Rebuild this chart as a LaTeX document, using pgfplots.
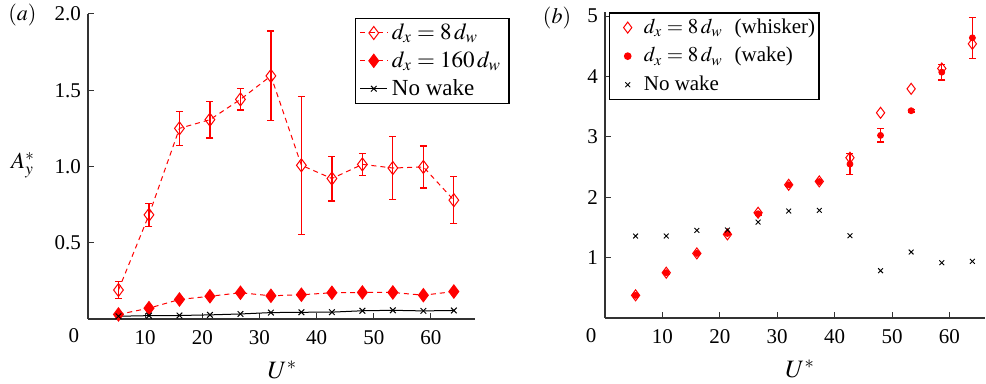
\documentclass[border=0pt]{standalone}
\usepackage{mathptmx}
\usepackage{fontspec}
\setmainfont{Liberation Serif}
\usepackage{pgfplots}
\pgfplotsset{compat=1.18}
\begin{document}
\begin{tikzpicture}
\useasboundingbox (-44pt,-32.5pt) rectangle (449pt,159.5pt);
\pgfplotsset{
  common/.style={
    scale only axis,
    axis x line*=bottom, axis y line*=left,
    tick align=inside,
    major tick length=3pt,
    axis line style={line width=0.6pt, black!80},
    tick style={line width=0.5pt, black!80},
    /pgf/number format/assume math mode=true,
    ticklabel style={font=\fontsize{10.5}{12}\selectfont},
    xtick={10,20,30,40,50,60},
    xticklabel style={yshift=-2pt},
    clip=false,
  },
}
% ---------------- (a) ----------------
\begin{axis}[common,
  at={(0pt,0pt)}, anchor=south west,
  width=193.5pt, height=152.5pt,
  xmin=0, xmax=67.7, ymin=0, ymax=2,
  ytick={0.5,1,1.5,2},
  yticklabel style={/pgf/number format/.cd, fixed, fixed zerofill, precision=1},
  legend style={at={(axis description cs:0.69,0.987)}, anchor=north west,
    draw=black, line width=0.6pt, font=\fontsize{11.5}{13}\selectfont,
    inner xsep=2pt, inner ysep=0.5pt, row sep=0.5pt, cells={anchor=west}},
  legend image code/.code={\draw[mark repeat=2,mark phase=2] plot coordinates {(0cm,0cm) (0.24cm,0cm) (0.48cm,0cm)};},
]
\addplot[red, line width=0.5pt, dash pattern=on 2.5pt off 2pt,
  mark=diamond, mark size=3.25pt, mark options={solid, line width=0.5pt},
  error bars/.cd, y dir=both, y explicit,
  error bar style={solid, red, line width=0.6pt},
  error mark options={red, mark size=1.75pt, solid, line width=0.6pt, rotate=90}]
coordinates {
(5.33,0.19) +- (0,0.055)
(10.67,0.683) +- (0,0.075)
(16,1.25) +- (0,0.113)
(21.33,1.307) +- (0,0.12)
(26.67,1.44) +- (0,0.07)
(32,1.594) +- (0,0.295)
(37.33,1.008) +- (0,0.452)
(42.67,0.921) +- (0,0.147)
(48,1.014) +- (0,0.071)
(53.33,0.99) +- (0,0.207)
(58.67,0.997) +- (0,0.138)
(64,0.779) +- (0,0.153)
};
\addlegendentry{$d_x = 8\,d_w$}
\addplot[red, line width=0.5pt, dash pattern=on 2.5pt off 2pt,
  mark=diamond*, mark size=3.3pt, mark options={solid, fill=red}]
coordinates {
(5.33,0.030) (10.67,0.071) (16,0.128) (21.33,0.149) (26.67,0.172) (32,0.152)
(37.33,0.159) (42.67,0.172) (48,0.174) (53.33,0.174) (58.67,0.156) (64,0.180)
};
\addlegendentry{$d_x = 160\,d_w$}
\addplot[black, line width=0.5pt, mark=x, mark size=2pt]
coordinates {
(5.33,0.018) (10.67,0.022) (16,0.023) (21.33,0.027) (26.67,0.033) (32,0.042)
(37.33,0.044) (42.67,0.045) (48,0.054) (53.33,0.057) (58.67,0.053) (64,0.056)
};
\addlegendentry{No wake}
\node[font=\fontsize{10.5}{12}\selectfont] at (axis cs:0,0) [xshift=-7pt, yshift=-8.5pt] {0};
\node[font=\fontsize{12.5}{14}\selectfont] at (axis cs:34,0) [yshift=-25.5pt] {$U^{*}$};
\node[font=\fontsize{11.5}{14}\selectfont] at (axis cs:0,1.01) [xshift=-32.5pt] {$A_y^{*}$};
\node[font=\fontsize{11}{13}\selectfont] at (axis cs:0,2) [xshift=-32.75pt, yshift=-0.5pt] {$(a)$};
\end{axis}
% ---------------- (b) ----------------
\begin{axis}[common,
  at={(258.5pt,0.5pt)}, anchor=south west,
  width=190pt, height=153pt,
  xmin=0, xmax=66.2, ymin=0, ymax=5.07,
  ytick={1,2,3,4,5},
  legend style={at={(axis description cs:0.01,1)}, anchor=north west,
    draw=black, line width=0.8pt, font=\fontsize{10.5}{12.5}\selectfont,
    inner xsep=7pt, inner ysep=1pt, row sep=1.5pt, cells={anchor=west},
    /tikz/every odd column/.append style={column sep=4pt}},
]
\addplot[only marks, red, mark=diamond, mark size=2.75pt, mark options={line width=0.5pt}]
coordinates {
(5.33,0.375) (10.67,0.75) (16,1.07) (21.33,1.385) (26.67,1.744) (32,2.207)
(37.33,2.263) (42.67,2.655) (48,3.40) (53.33,3.797) (58.67,4.134) (64,4.542)
};
\addlegendentry{$d_x = 8\,d_w$\hspace{6pt}(whisker)\kern-7pt\relax}
\addplot[only marks, red, mark=*, mark size=1.5pt, mark options={fill=red},
  error bars/.cd, y dir=both, y explicit,
  error bar style={red, line width=0.6pt},
  error mark options={red, mark size=1.75pt, line width=0.6pt, rotate=90}]
coordinates {
(5.33,0.375) +- (0,0.02)
(10.67,0.75) +- (0,0.02)
(16,1.07) +- (0,0.02)
(21.33,1.40) +- (0,0.02)
(26.67,1.727) +- (0,0.02)
(32,2.207) +- (0,0.02)
(37.33,2.26) +- (0,0.02)
(42.67,2.55) +- (0,0.17)
(48,3.025) +- (0,0.11)
(53.33,3.434) +- (0,0.02)
(58.67,4.073) +- (0,0.13)
(64,4.642) +- (0,0.34)
};
\addlegendentry{$d_x = 8\,d_w$\hspace{6pt}(wake)}
\addplot[only marks, black, mark=x, mark size=1.7pt, mark options={line width=0.45pt}]
coordinates {
(5.33,1.358) (10.67,1.358) (16,1.451) (21.33,1.457) (26.67,1.589) (32,1.772)
(37.33,1.783) (42.67,1.363) (48,0.784) (53.33,1.093) (58.67,0.916) (64,0.938)
};
\addlegendentry{No wake}
\node[font=\fontsize{10.5}{12}\selectfont] at (axis cs:0,0) [xshift=-7pt, yshift=-9pt] {0};
\node[font=\fontsize{12.5}{14}\selectfont] at (axis cs:34,0) [yshift=-25.5pt] {$U^{*}$};
\node[font=\fontsize{11}{13}\selectfont] at (axis cs:0,5.07) [xshift=-24pt, yshift=-3pt] {$(b)$};
\end{axis}
\end{tikzpicture}
\end{document}
